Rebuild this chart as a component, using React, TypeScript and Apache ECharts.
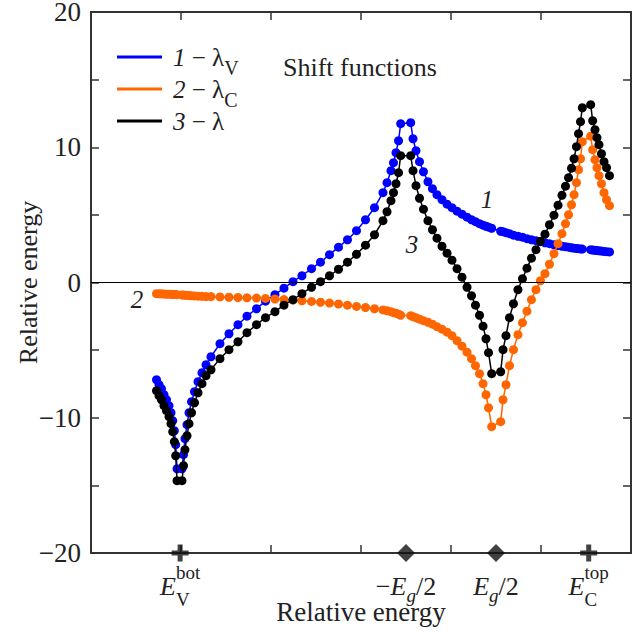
import React, { useEffect, useRef } from 'react';
import * as echarts from 'echarts';

// Shared energy grid (x, relative energy units on the axis 0..6)
const energyGrid = [
  0.728, 0.756, 0.783, 0.811, 0.839, 0.867, 0.889, 0.908, 0.926, 0.941, 0.956,
  1.011, 1.028, 1.044, 1.067, 1.089, 1.117, 1.150, 1.189, 1.233, 1.278,
  1.333, 1.433, 1.533, 1.633, 1.733, 1.839, 1.939, 2.044, 2.144, 2.244, 2.344, 2.450, 2.550, 2.650, 2.750, 2.850, 2.950, 3.050, 3.150, 3.244,
  3.289, 3.333, 3.361, 3.389, 3.417, 3.441,
  3.552, 3.578, 3.611, 3.650, 3.694, 3.744, 3.794, 3.844, 3.900, 3.956, 4.011, 4.067, 4.122, 4.178, 4.228, 4.272, 4.317, 4.356, 4.389, 4.417, 4.452,
  4.552, 4.578, 4.611, 4.650, 4.694, 4.744, 4.794, 4.844, 4.894, 4.944, 4.994, 5.044, 5.094, 5.144, 5.189, 5.233, 5.272, 5.306, 5.339, 5.367, 5.394, 5.417, 5.439, 5.459,
  5.552, 5.574, 5.600, 5.622, 5.644, 5.672, 5.700, 5.728, 5.761,
];

// 1 - lambda_V (blue)
const lambdaV = [
  -7.19, -7.56, -7.85, -8.30, -8.67, -9.11, -9.63, -10.22, -10.96, -11.99, -13.77,
  -13.77, -12.73, -11.55, -10.51, -9.63, -8.81, -8.07, -7.33, -6.67, -6.08,
  -5.49, -4.52, -3.79, -3.12, -2.49, -1.94, -1.38, -0.90, -0.42, 0.06, 0.50, 1.02, 1.50, 2.06, 2.61, 3.16, 3.83, 4.64, 5.53, 6.64,
  7.38, 8.27, 8.86, 9.60, 10.48, 11.74,
  11.82, 10.63, 9.74, 8.93, 8.19, 7.45, 6.94, 6.49, 6.12, 5.79, 5.53, 5.27, 5.05, 4.83, 4.64, 4.50, 4.35, 4.24, 4.16, 4.09, 4.01,
  3.79, 3.76, 3.68, 3.61, 3.50, 3.42, 3.35, 3.24, 3.16, 3.09, 3.02, 2.94, 2.87, 2.79, 2.72, 2.68, 2.65, 2.61, 2.57, 2.54, 2.52, 2.50, 2.48, 2.47,
  2.43, 2.40, 2.38, 2.36, 2.34, 2.32, 2.30, 2.28, 2.26,
];

// 2 - lambda_C (orange)
const lambdaC = [
  -0.83, -0.84, -0.84, -0.85, -0.86, -0.86, -0.87, -0.88, -0.89, -0.89, -0.90,
  -0.92, -0.93, -0.94, -0.95, -0.96, -0.98, -0.99, -1.01, -1.02, -1.04,
  -1.04, -1.07, -1.09, -1.11, -1.13, -1.15, -1.18, -1.22, -1.26, -1.31, -1.35, -1.40, -1.46, -1.52, -1.59, -1.68, -1.77, -1.85, -1.94, -2.03,
  -2.09, -2.16, -2.23, -2.27, -2.34, -2.42,
  -2.45, -2.53, -2.60, -2.71, -2.82, -2.94, -3.08, -3.27, -3.45, -3.67, -3.93, -4.30, -4.71, -5.15, -5.63, -6.15, -6.74, -7.48, -8.30, -9.26, -10.66,
  -10.29, -8.67, -7.56, -6.15, -4.97, -3.86, -2.97, -2.12, -1.27, -0.53, 0.13, 0.65, 1.35, 2.13, 2.87, 3.61, 4.35, 5.01, 5.75, 6.49, 7.38, 8.34, 9.15, 10.41,
  10.82, 9.82, 9.08, 8.49, 7.90, 7.30, 6.64, 6.12, 5.68,
];

// 3 - lambda (black)
const lambdaTotal = [
  -8.00, -8.37, -8.67, -9.11, -9.48, -9.92, -10.44, -11.03, -11.77, -12.81, -14.65,
  -14.65, -13.55, -12.36, -11.33, -10.44, -9.63, -8.89, -8.15, -7.48, -6.89,
  -6.45, -5.63, -4.97, -4.38, -3.71, -3.12, -2.60, -2.16, -1.68, -1.27, -0.83, -0.35, 0.06, 0.50, 0.98, 1.50, 2.09, 2.76, 3.53, 4.57,
  5.23, 6.05, 6.64, 7.30, 8.12, 9.38,
  9.38, 8.27, 7.16, 6.23, 5.42, 4.57, 3.90, 3.28, 2.68, 2.17, 1.65, 1.02, 0.39, -0.35, -0.98, -1.68, -2.42, -3.23, -4.16, -5.19, -6.74,
  -6.60, -4.97, -3.93, -2.60, -1.57, -0.53, 0.28, 1.06, 1.80, 2.43, 3.05, 3.57, 4.27, 4.98, 5.72, 6.45, 7.12, 7.75, 8.45, 9.15, 10.04, 11.00, 11.89, 12.92,
  13.15, 11.96, 11.30, 10.71, 10.19, 9.52, 8.93, 8.49, 7.90,
];

const seriesNames = ['1 − λV', '2 − λC', '3 − λ'];
const seriesColors = ['#0000ff', '#ff6600', '#000000'];
const Y_MIN = -20;
const Y_MAX = 20;
const X_MIN = 0;
const X_MAX = 6;

// Special energies marked on the x axis
const plusMarkers = [0.99, 5.53];
const diamondMarkers = [3.5, 4.5];

// Curve number tags (data coordinates)
const curveTags = [
  { text: '1', x: 4.4, y: 6.1 },
  { text: '3', x: 3.567, y: 2.8 },
  { text: '2', x: 0.511, y: -1.27 },
];

const SERIF = 'Liberation Serif';
const INK = '#222';

type Run = { t: string; size: number; italic?: boolean; dy: number; stack?: boolean; lh?: number };

const bottomLabels: { at: number; runs: Run[] }[] = [
  {
    at: plusMarkers[0],
    runs: [
      { t: 'E', size: 26, italic: true, dy: 0 },
      { t: 'V', size: 19, dy: 11, lh: 12 },
      { t: 'bot', size: 19, dy: -16, stack: true },
    ],
  },
  {
    at: diamondMarkers[0],
    runs: [
      { t: '−', size: 26, dy: 0 },
      { t: 'E', size: 26, italic: true, dy: 0 },
      { t: 'g', size: 19, italic: true, dy: 7, lh: 10 },
      { t: '/2', size: 26, dy: 0 },
    ],
  },
  {
    at: diamondMarkers[1],
    runs: [
      { t: 'E', size: 26, italic: true, dy: 0 },
      { t: 'g', size: 19, italic: true, dy: 7, lh: 10 },
      { t: '/2', size: 26, dy: 0 },
    ],
  },
  {
    at: plusMarkers[1],
    runs: [
      { t: 'E', size: 26, italic: true, dy: 0 },
      { t: 'C', size: 19, dy: 11, lh: 12 },
      { t: 'top', size: 19, dy: -16, stack: true },
    ],
  },
];

const legendRows: Run[][] = [
  [
    { t: '1', size: 25, italic: true, dy: 0 },
    { t: ' − λ', size: 25, dy: 0 },
    { t: 'V', size: 20, dy: 9 },
  ],
  [
    { t: '2', size: 25, italic: true, dy: 0 },
    { t: ' − λ', size: 25, dy: 0 },
    { t: 'C', size: 20, dy: 9 },
  ],
  [
    { t: '3', size: 25, italic: true, dy: 0 },
    { t: ' − λ', size: 25, dy: 0 },
  ],
];

let measureCtx: CanvasRenderingContext2D | null = null;
function measure(text: string, size: number, italic?: boolean): number {
  if (!measureCtx) measureCtx = document.createElement('canvas').getContext('2d');
  if (!measureCtx) return text.length * size * 0.5;
  measureCtx.font = `${italic ? 'italic ' : ''}${size}px "Liberation Serif"`;
  return measureCtx.measureText(text).width;
}

function layoutRuns(runs: Run[], baseline: number) {
  let x = 0;
  let lastStart = 0;
  const placed: { run: Run; x: number }[] = [];
  for (const r of runs) {
    const w = measure(r.t, r.size, r.italic);
    if (r.stack) {
      placed.push({ run: r, x: lastStart });
      x = Math.max(x, lastStart + w);
    } else {
      lastStart = x;
      placed.push({ run: r, x });
      x += w;
    }
  }
  const width = x;
  const build = (startX: number) =>
    placed.map((p) => ({
      type: 'text',
      x: startX + p.x,
      y: baseline + p.run.dy - 0.34 * p.run.size,
      silent: true,
      z: 100,
      style: {
        text: p.run.t,
        fontFamily: SERIF,
        fontSize: p.run.size,
        lineHeight: p.run.lh ?? Math.round(p.run.size * 0.8),
        fontStyle: p.run.italic ? 'italic' : 'normal',
        fill: INK,
        align: 'left',
        verticalAlign: 'middle',
      },
    }));
  return { width, build };
}

export default function App() {
  const ref = useRef<HTMLDivElement>(null);

  useEffect(() => {
    if (!ref.current) return;
    const chart = echarts.init(ref.current, undefined, { renderer: 'svg' });

    const mk = (ys: number[]) => energyGrid.map((x, i) => [x, ys[i]]);
    const allY = [lambdaV, lambdaC, lambdaTotal];

    const axisLine = { show: true, onZero: false, lineStyle: { color: '#333', width: 2 } };
    const tick = { show: true, inside: true, length: 8, lineStyle: { color: '#333', width: 1.5 } };

    const option: any = {
      animation: false,
      backgroundColor: '#fff',
      textStyle: { fontFamily: SERIF },
      grid: { left: 91, right: 9, top: 12, bottom: 84, containLabel: false, outerBoundsMode: 'none' },
      xAxis: [
        {
          type: 'value', min: X_MIN, max: X_MAX, interval: 1, position: 'bottom',
          axisLine, axisTick: tick, axisLabel: { show: false }, splitLine: { show: false },
          name: 'Relative energy', nameLocation: 'middle', nameGap: 48, nameMoveOverlap: false,
          nameTextStyle: { fontFamily: SERIF, fontSize: 27, lineHeight: 21, color: INK },
        },
        {
          type: 'value', min: X_MIN, max: X_MAX, interval: 1, position: 'top',
          axisLine, axisTick: tick, axisLabel: { show: false }, splitLine: { show: false },
        },
      ],
      yAxis: [
        {
          type: 'value', min: Y_MIN, max: Y_MAX, interval: 10, position: 'left',
          axisLine, axisTick: tick,
          minorTick: { show: true, splitNumber: 2, length: 8, lineStyle: { color: '#333', width: 1.5 } },
          axisLabel: {
            fontFamily: SERIF, fontSize: 27, lineHeight: 22, color: INK, margin: 10,
            formatter: (v: number) => (v < 0 ? '−' + Math.abs(v) : String(v)),
          },
          splitLine: { show: false },
          name: 'Relative energy', nameLocation: 'middle', nameGap: 50, nameMoveOverlap: false,
          nameTextStyle: { fontFamily: SERIF, fontSize: 26, color: INK },
        },
        {
          type: 'value', min: Y_MIN, max: Y_MAX, interval: 10, position: 'right',
          axisLine, axisTick: tick,
          minorTick: { show: true, splitNumber: 2, length: 8, lineStyle: { color: '#333', width: 1.5 } },
          axisLabel: { show: false }, splitLine: { show: false },
        },
      ],
      series: [
        ...seriesNames.map((name, k) => ({
          name,
          type: 'line',
          data: mk(allY[k]),
          symbol: 'circle',
          symbolSize: 9,
          showSymbol: true,
          z: 2 + k,
          itemStyle: { color: seriesColors[k], borderWidth: 0 },
          lineStyle: { color: seriesColors[k], width: 1.5 },
          emphasis: { disabled: true },
          ...(k === 0
            ? {
                markLine: {
                  silent: true,
                  symbol: ['none', 'none'],
                  label: { show: false },
                  lineStyle: { color: '#000', width: 1.2, type: 'solid' },
                  data: [{ yAxis: 0 }],
                },
              }
            : {}),
        })),
        {
          name: 'band edges',
          type: 'scatter',
          data: plusMarkers.map((x) => [x, Y_MIN]),
          symbol: 'path://M6,0H11V6H17V11H11V17H6V11H0V6H6Z',
          symbolSize: [17, 17],
          itemStyle: { color: '#111' },
          clip: false,
          z: 10,
          silent: true,
        },
        {
          name: 'gap edges',
          type: 'scatter',
          data: diamondMarkers.map((x) => [x, Y_MIN]),
          symbol: 'diamond',
          symbolSize: [18, 18],
          itemStyle: { color: '#111' },
          clip: false,
          z: 10,
          silent: true,
        },
      ],
    };

    chart.setOption(option);

    const toPx = (x: number, y: number) =>
      chart.convertToPixel({ xAxisIndex: 0, yAxisIndex: 0 }, [x, y]) as number[];

    const graphics: any[] = [];

    // Bottom axis labels
    const axisBottom = toPx(0, Y_MIN)[1];
    bottomLabels.forEach((lab) => {
      const cx = toPx(lab.at, Y_MIN)[0];
      const lay = layoutRuns(lab.runs, axisBottom + 42);
      graphics.push(...lay.build(cx - lay.width / 2));
    });

    // Legend
    const gridLeft = toPx(X_MIN, Y_MAX)[0];
    const gridTop = toPx(X_MIN, Y_MAX)[1];
    legendRows.forEach((row, i) => {
      const ly = gridTop + 45 + i * 32;
      graphics.push({
        type: 'line',
        silent: true,
        z: 100,
        shape: { x1: gridLeft + 26, y1: ly, x2: gridLeft + 71, y2: ly },
        style: { stroke: seriesColors[i], lineWidth: 3 },
      });
      const lay = layoutRuns(row, ly + 9);
      graphics.push(...lay.build(gridLeft + 82));
    });

    // Caption
    graphics.push({
      type: 'text',
      x: gridLeft + 192,
      y: gridTop + 55,
      silent: true,
      z: 100,
      style: {
        text: 'Shift functions',
        fontFamily: SERIF, fontSize: 26, fill: INK,
        align: 'left', verticalAlign: 'middle',
      },
    });

    // Curve number tags
    curveTags.forEach((tag) => {
      const p = toPx(tag.x, tag.y);
      graphics.push({
        type: 'text',
        x: p[0],
        y: p[1],
        silent: true,
        z: 100,
        style: {
          text: tag.text,
          fontFamily: SERIF, fontSize: 25, fontStyle: 'italic', fill: INK,
          align: 'center', verticalAlign: 'middle',
        },
      });
    });

    chart.setOption({ graphic: graphics });

    return () => {
      chart.dispose();
    };
  }, []);

  return (
    <div
      ref={ref}
      style={{ position: 'fixed', left: 0, top: 0, width: 640, height: 637, background: '#fff' }}
    />
  );
}
